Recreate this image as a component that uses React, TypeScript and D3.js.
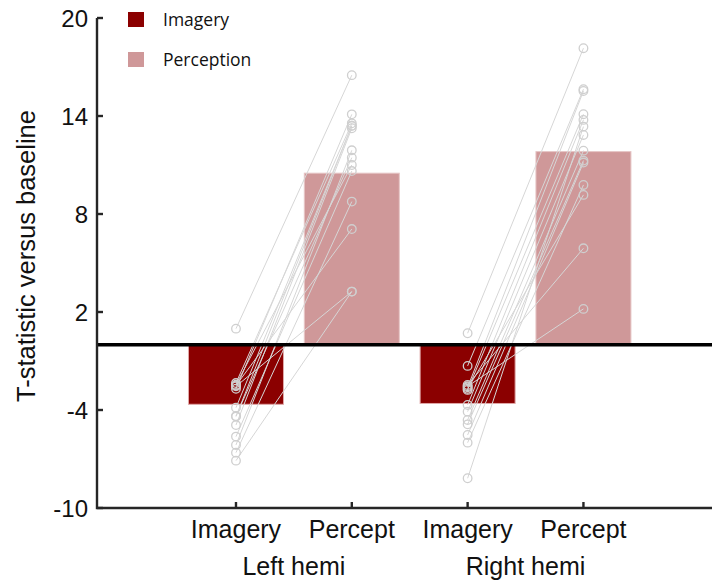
import React, { useEffect, useRef } from 'react'
import * as d3 from 'd3'

// categories along x
const conditions = ['Imagery', 'Percept', 'Imagery', 'Percept']
const hemis = ['Left hemi', 'Right hemi']
const legendLabels = ['Imagery', 'Perception']
const yTicks = [20, 14, 8, 2, -4, -10]

// bar heights (group means)
const barMeans = [-3.65, 10.5, -3.6, 11.82]

// single subjects, paired by index
const leftImagery = [0.98, -2.35, -2.45, -2.55, -2.7, -3.86, -4.37, -4.92, -5.63, -6.14, -6.61, -7.1, -2.5, -4.4]
const leftPercept = [16.5, 13.55, 11.0, 3.25, 14.1, 13.4, 11.45, 13.25, 10.63, 11.9, 8.76, 3.25, 7.08, 13.4]
const rightImagery = [0.7, -1.3, -2.47, -2.55, -2.61, -2.77, -3.69, -4.1, -4.61, -4.88, -5.53, -6.0, -8.18, -2.7]
const rightPercept = [18.15, 15.64, 5.9, 2.19, 15.53, 14.11, 13.76, 12.84, 11.88, 11.27, 11.15, 9.78, 13.35, 9.17]

const colors = ['#8b0000', '#cf9899']

const App = () => {
  const ref = useRef(null)

  useEffect(() => {
    const svg = d3.select(ref.current)
    svg.selectAll('*').remove()

    const width = 712
    const height = 581
    const axisColor = '#262626'

    const x = d3.scaleLinear().domain([-0.2, 5.11]).range([97, width])
    const y = d3.scaleLinear().domain([-10, 20]).range([508, 18])
    const bw = 95

    svg.append('rect').attr('width', width).attr('height', height).attr('fill', 'white')

    svg // bars
      .append('g')
      .selectAll('rect')
      .data(barMeans)
      .join('rect')
      .attr('x', (d, i) => x(i + 1) - bw / 2)
      .attr('y', d => y(Math.max(0, d)))
      .attr('width', bw)
      .attr('height', d => Math.abs(y(d) - y(0)))
      .attr('fill', (d, i) => colors[i % 2])
      .attr('stroke', (d, i) => (i % 2 ? '#e6c6c6' : '#e0a8a8'))
      .attr('stroke-width', 1)

    // subject lines + circles
    const pairs = [
      [leftImagery, leftPercept, 1],
      [rightImagery, rightPercept, 3],
    ] as const
    const dots = svg.append('g')
    pairs.forEach(([a, b, pos]) => {
      dots
        .append('g')
        .selectAll('line')
        .data(a)
        .join('line')
        .attr('x1', x(pos))
        .attr('x2', x(pos + 1))
        .attr('y1', d => y(d))
        .attr('y2', (d, i) => y(b[i]))
        .attr('stroke', '#d6d6d6')
        .attr('stroke-width', 1)
      ;[a, b].forEach((arr, k) => {
        dots
          .append('g')
          .selectAll('circle')
          .data(arr)
          .join('circle')
          .attr('cx', x(pos + k))
          .attr('cy', d => y(d))
          .attr('r', 4.3)
          .attr('fill', 'none')
          .attr('stroke', '#cfcfcf')
          .attr('stroke-width', 1.3)
      })
    })

    svg // zero line
      .append('line')
      .attr('x1', 97)
      .attr('x2', width)
      .attr('y1', y(0))
      .attr('y2', y(0))
      .attr('stroke', 'black')
      .attr('stroke-width', 3.5)

    const axes = svg.append('g').attr('stroke', axisColor).attr('stroke-width', 2.4).attr('fill', 'none')
    axes // yaxis + xaxis
      .append('path')
      .attr('d', `M${x(-0.2)},${y(20)}V${y(-10)}H${width}`)
    axes
      .selectAll('.yt')
      .data(yTicks)
      .join('line')
      .attr('x1', x(-0.2))
      .attr('x2', x(-0.2) + 6)
      .attr('y1', d => y(d))
      .attr('y2', d => y(d))
    axes
      .selectAll('.xt')
      .data(conditions)
      .join('line')
      .attr('x1', (d, i) => x(i + 1))
      .attr('x2', (d, i) => x(i + 1))
      .attr('y1', y(-10))
      .attr('y2', y(-10) - 6)

    const font = 'Liberation Sans, Arial, Helvetica, sans-serif'

    svg // ytick labels
      .append('g')
      .selectAll('text')
      .data(yTicks)
      .join('text')
      .attr('x', 88)
      .attr('y', d => y(d))
      .attr('dy', '0.36em')
      .attr('text-anchor', 'end')
      .attr('font-family', font)
      .attr('font-size', 24)
      .attr('fill', '#111')
      .text(d => d)

    svg // condition labels
      .append('g')
      .selectAll('text')
      .data(conditions)
      .join('text')
      .attr('x', (d, i) => x(i + 1))
      .attr('y', 538)
      .attr('text-anchor', 'middle')
      .attr('font-family', font)
      .attr('font-size', 25)
      .attr('fill', '#111')
      .text(d => d)

    svg // hemisphere labels
      .append('g')
      .selectAll('text')
      .data(hemis)
      .join('text')
      .attr('x', (d, i) => x(2 * i + 1.5))
      .attr('y', 575)
      .attr('text-anchor', 'middle')
      .attr('font-family', font)
      .attr('font-size', 25)
      .attr('fill', '#111')
      .text(d => d)

    svg // ylabel
      .append('text')
      .attr('transform', `translate(35, 256) rotate(-90)`)
      .attr('text-anchor', 'middle')
      .attr('font-family', font)
      .attr('font-size', 25.5)
      .attr('fill', '#111')
      .text('T-statistic versus baseline')

    const legend = svg // legend
      .append('g')
      .selectAll('g')
      .data(legendLabels)
      .join('g')
      .attr('transform', (d, i) => `translate(128, ${12 + i * 40})`)
    legend
      .append('rect')
      .attr('width', 16)
      .attr('height', 15)
      .attr('fill', (d, i) => colors[i])
    legend
      .append('text')
      .attr('x', 35)
      .attr('y', 7.5)
      .attr('dy', '0.35em')
      .attr('font-family', 'Open Sans, sans-serif')
      .attr('font-size', 17.5)
      .attr('fill', '#111')
      .text(d => d)
  }, [])

  return <svg ref={ref} width={712} height={581} style={{ position: 'absolute', left: 0, top: 0 }} />
}

export default App
